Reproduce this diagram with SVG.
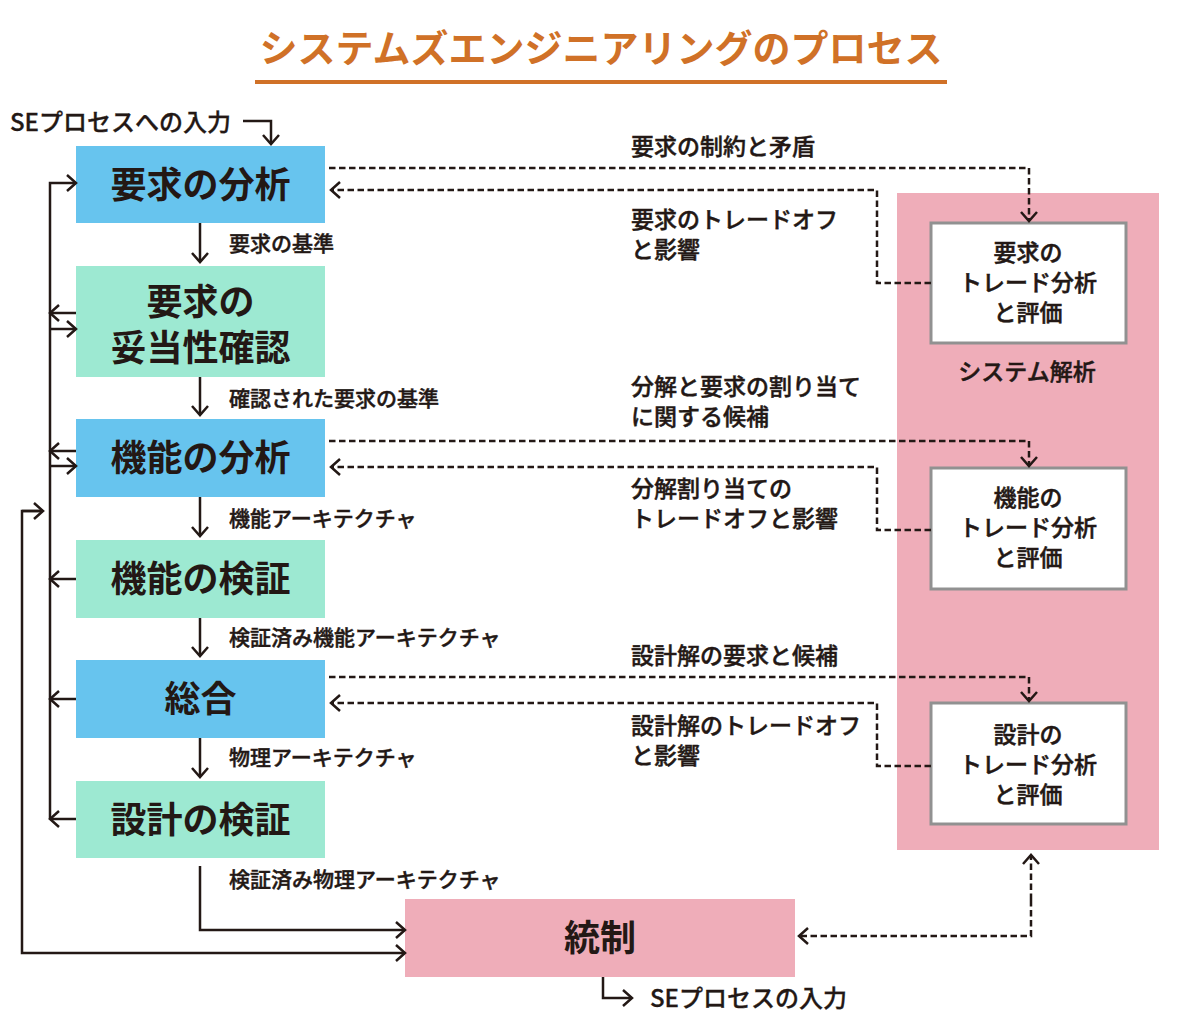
<svg xmlns="http://www.w3.org/2000/svg" width="1201" height="1020" viewBox="0 0 1201 1020">
<style>
text{font-family:"Noto Sans CJK JP","Noto Sans CJK SC",sans-serif;fill:#231815}
.title{font-size:38px;font-weight:700;fill:#D07127}
.big{font-size:36px;font-weight:700}
.lab{font-size:21px;font-weight:500;stroke:#231815;stroke-width:0.45}
.rl{font-size:23px;font-weight:500;stroke:#231815;stroke-width:0.45}
.io{font-size:24px;font-weight:500;stroke:#231815;stroke-width:0.3}
.rt{font-size:23px;font-weight:500;stroke:#231815;stroke-width:0.5}
.blue{fill:#67C4EE}
.green{fill:#9DE9D2}
.pink{fill:#EFADB9}
.wbox{fill:#ffffff;stroke:#919191;stroke-width:3}
.s{fill:none;stroke:#231815;stroke-width:2.5}
.d{fill:none;stroke:#231815;stroke-width:2.5;stroke-dasharray:6.5 3.5}
</style>
<defs>
<marker id="ah" markerUnits="userSpaceOnUse" markerWidth="24" markerHeight="24" viewBox="-12 -12 24 24" refX="0" refY="0" orient="auto" overflow="visible">
<path d="M-9,-8 L0,0 L-9,8" fill="none" stroke="#231815" stroke-width="2.5"/>
</marker>
</defs>

<g id="title">
<text class="title" x="601" y="62" text-anchor="middle">システムズエンジニアリングのプロセス</text>
<rect x="255" y="80" width="692" height="4" fill="#D07127"/>
</g>

<g id="sys-panel">
<rect class="pink" x="897" y="193" width="262" height="657"/>
<text class="rt" x="1027" y="380" text-anchor="middle">システム解析</text>
</g>

<g id="n-req">
<rect class="blue" x="76" y="146" width="249" height="77"/>
<text class="big" x="200.5" y="198" text-anchor="middle">要求の分析</text>
</g>
<g id="n-reqval">
<rect class="green" x="76" y="266" width="249" height="111"/>
<text class="big" text-anchor="middle"><tspan x="200.5" y="315">要求の</tspan><tspan x="200.5" y="361">妥当性確認</tspan></text>
</g>
<g id="n-func">
<rect class="blue" x="76" y="419" width="249" height="78"/>
<text class="big" x="200.5" y="471" text-anchor="middle">機能の分析</text>
</g>
<g id="n-funcver">
<rect class="green" x="76" y="540" width="249" height="78"/>
<text class="big" x="200.5" y="592" text-anchor="middle">機能の検証</text>
</g>
<g id="n-synth">
<rect class="blue" x="76" y="660" width="249" height="78"/>
<text class="big" x="200.5" y="712" text-anchor="middle">総合</text>
</g>
<g id="n-desver">
<rect class="green" x="76" y="781" width="249" height="77"/>
<text class="big" x="200.5" y="833" text-anchor="middle">設計の検証</text>
</g>
<g id="n-control">
<rect class="pink" x="405" y="899" width="390" height="78"/>
<text class="big" x="600" y="951" text-anchor="middle">統制</text>
</g>

<g id="n-ta-req">
<rect class="wbox" x="931" y="223" width="195" height="120"/>
<text class="rt" text-anchor="middle"><tspan x="1028" y="261">要求の</tspan><tspan x="1028" y="291">トレード分析</tspan><tspan x="1028" y="321">と評価</tspan></text>
</g>
<g id="n-ta-func">
<rect class="wbox" x="931" y="468" width="195" height="121"/>
<text class="rt" text-anchor="middle"><tspan x="1028" y="506">機能の</tspan><tspan x="1028" y="536">トレード分析</tspan><tspan x="1028" y="566">と評価</tspan></text>
</g>
<g id="n-ta-des">
<rect class="wbox" x="931" y="703" width="195" height="121"/>
<text class="rt" text-anchor="middle"><tspan x="1028" y="743">設計の</tspan><tspan x="1028" y="773">トレード分析</tspan><tspan x="1028" y="803">と評価</tspan></text>
</g>

<g id="connectors">
<path class="s" d="M243,121 H271 V144" marker-end="url(#ah)"/>
<text class="io" x="10" y="131">SEプロセスへの入力</text>
<path class="s" d="M603,977 V998 H632" marker-end="url(#ah)"/>
<text class="io" x="650" y="1007">SEプロセスの入力</text>

<path class="s" d="M200,223 V262" marker-end="url(#ah)"/>
<text class="lab" x="229" y="251">要求の基準</text>
<path class="s" d="M200,377 V415" marker-end="url(#ah)"/>
<text class="lab" x="229" y="406">確認された要求の基準</text>
<path class="s" d="M200,497 V536" marker-end="url(#ah)"/>
<text class="lab" x="229" y="526">機能アーキテクチャ</text>
<path class="s" d="M200,618 V656" marker-end="url(#ah)"/>
<text class="lab" x="229" y="645">検証済み機能アーキテクチャ</text>
<path class="s" d="M200,738 V777" marker-end="url(#ah)"/>
<text class="lab" x="229" y="765">物理アーキテクチャ</text>
<path class="s" d="M200,866 V930 H405" marker-end="url(#ah)"/>
<text class="lab" x="229" y="887">検証済み物理アーキテクチャ</text>

<path class="s" d="M50,819 V183 H76" marker-end="url(#ah)"/>
<path class="s" d="M76,313 H50" marker-end="url(#ah)"/>
<path class="s" d="M50,329 H76" marker-end="url(#ah)"/>
<path class="s" d="M76,451 H50" marker-end="url(#ah)"/>
<path class="s" d="M50,466 H76" marker-end="url(#ah)"/>
<path class="s" d="M76,579 H50" marker-end="url(#ah)"/>
<path class="s" d="M76,699 H50" marker-end="url(#ah)"/>
<path class="s" d="M76,819 H50" marker-end="url(#ah)"/>

<path class="s" d="M43,511 H22 V953 H405" marker-end="url(#ah)"/>
<path class="s" d="M22,511 H43" marker-end="url(#ah)"/>

<path class="d" d="M329,168 H1029 V221" marker-end="url(#ah)"/>
<text class="rl" x="631" y="155">要求の制約と矛盾</text>
<path class="d" d="M931,283 H877 V190 H331" marker-end="url(#ah)"/>
<text class="rl"><tspan x="631" y="228">要求のトレードオフ</tspan><tspan x="631" y="258">と影響</tspan></text>

<path class="d" d="M329,441 H1029 V466" marker-end="url(#ah)"/>
<text class="rl"><tspan x="631" y="395">分解と要求の割り当て</tspan><tspan x="631" y="425">に関する候補</tspan></text>
<path class="d" d="M931,530 H877 V467 H331" marker-end="url(#ah)"/>
<text class="rl"><tspan x="631" y="497">分解割り当ての</tspan><tspan x="631" y="527">トレードオフと影響</tspan></text>

<path class="d" d="M329,677 H1029 V701" marker-end="url(#ah)"/>
<text class="rl" x="631" y="664">設計解の要求と候補</text>
<path class="d" d="M931,766 H877 V703 H331" marker-end="url(#ah)"/>
<text class="rl"><tspan x="631" y="734">設計解のトレードオフ</tspan><tspan x="631" y="764">と影響</tspan></text>

<path class="d" d="M1031,900 V855" marker-end="url(#ah)"/>
<path class="d" d="M1031,900 V936 H799" marker-end="url(#ah)"/>
</g>
</svg>
